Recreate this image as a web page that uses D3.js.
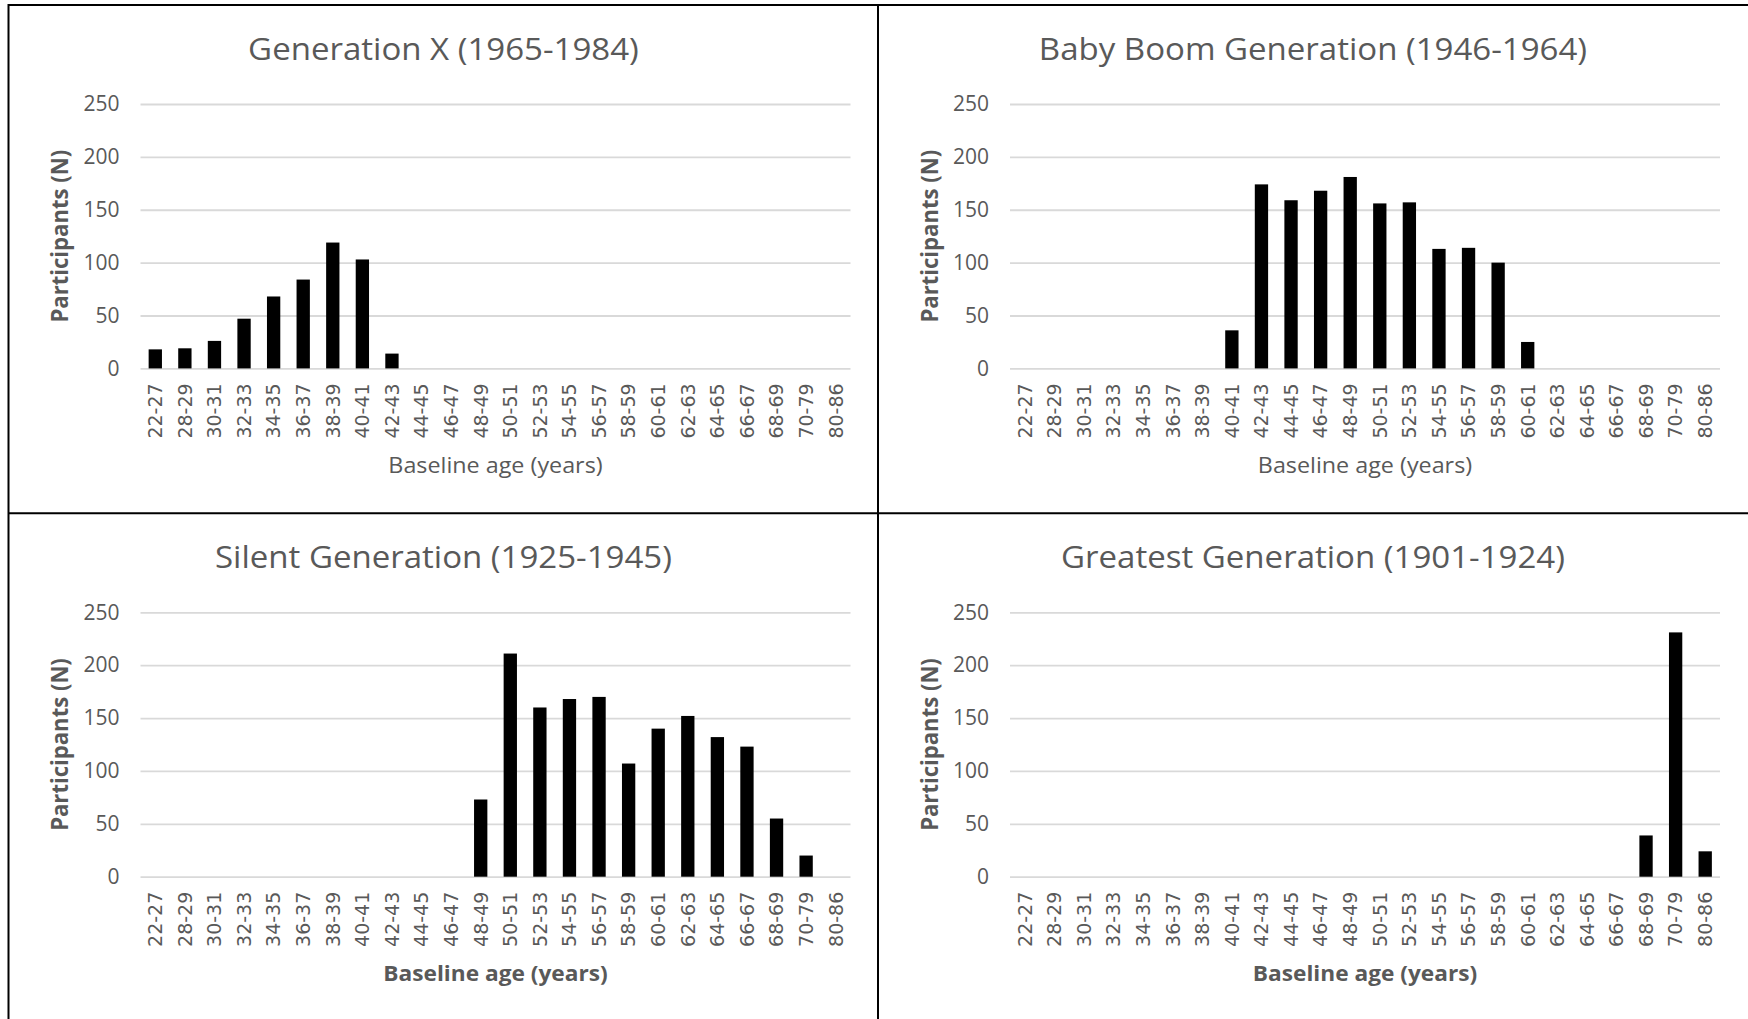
<!DOCTYPE html>
<html>
<head>
<meta charset="utf-8">
<script src="https://cdn.jsdelivr.net/npm/d3@7"></script>
<style>
  html, body { margin: 0; padding: 0; background: #fff; }
  svg { display: block; }
</style>
</head>
<body>
<svg id="chart" width="1748" height="1019"></svg>
<script>
// ---------- DATA ----------
const categories = ["22-27","28-29","30-31","32-33","34-35","36-37","38-39","40-41","42-43","44-45","46-47","48-49",
                    "50-51","52-53","54-55","56-57","58-59","60-61","62-63","64-65","66-67","68-69","70-79","80-86"];
const genX      = [18,19,26,47,68,84,119,103,14,0,0,0,0,0,0,0,0,0,0,0,0,0,0,0];
const babyBoom  = [0,0,0,0,0,0,0,36,174,159,168,181,156,157,113,114,100,25,0,0,0,0,0,0];
const silent    = [0,0,0,0,0,0,0,0,0,0,0,73,211,160,168,170,107,140,152,132,123,55,20,0];
const greatest  = [0,0,0,0,0,0,0,0,0,0,0,0,0,0,0,0,0,0,0,0,0,39,231,24];
const titles    = ["Generation X (1965-1984)","Baby Boom Generation (1946-1964)","Silent Generation (1925-1945)","Greatest Generation (1901-1924)"];
const yTicks    = [0,50,100,150,200,250];
const yTitle    = "Participants (N)";
const xTitle    = "Baseline age (years)";

// ---------- LAYOUT ----------
const svg = d3.select("#chart");
const colX = [8.5, 878];
const rowY = [5, 513.3];
const panels = [
  {title: titles[0], values: genX,     col: 0, row: 0, boldX: false},
  {title: titles[1], values: babyBoom, col: 1, row: 0, boldX: false},
  {title: titles[2], values: silent,   col: 0, row: 1, boldX: true},
  {title: titles[3], values: greatest, col: 1, row: 1, boldX: true}
];
const grey = "#595959";

function fit(sel, factor) {
  sel.each(function() {
    const w = this.getComputedTextLength();
    d3.select(this).attr("textLength", w * factor).attr("lengthAdjust", "spacingAndGlyphs");
  });
}

panels.forEach(p => {
  const x0 = colX[p.col], y0 = rowY[p.row];
  const left = x0 + 132, right = x0 + 842;
  const top = y0 + 99, bottom = y0 + 363.4;

  const x = d3.scaleBand().domain(categories).range([left, right]).paddingInner(0.55).paddingOuter(0.275);
  const y = d3.scaleLinear().domain([0, 250]).range([bottom, top]);

  const g = svg.append("g");

  // gridlines + y labels
  const ya = g.append("g").attr("transform", `translate(${left},0)`)
    .call(d3.axisLeft(y).tickValues(yTicks).tickSize(-(right - left)).tickPadding(21));
  ya.select(".domain").remove();
  ya.selectAll(".tick line").attr("stroke", "#d9d9d9").attr("stroke-width", 1.8);
  ya.selectAll(".tick text").attr("fill", grey)
    .style("font-family", "'Open Sans', sans-serif").style("font-size", "21px");

  // bars
  g.append("g").selectAll("rect")
    .data(categories.map((c, i) => ({c, v: p.values[i]})).filter(d => d.v > 0))
    .join("rect")
    .attr("x", d => x(d.c))
    .attr("width", x.bandwidth())
    .attr("y", d => y(d.v))
    .attr("height", d => y(0) - y(d.v))
    .attr("fill", "#000");

  // x labels
  const xa = g.append("g").attr("transform", `translate(0,${bottom})`)
    .call(d3.axisBottom(x).tickSize(0));
  xa.select(".domain").remove();
  xa.selectAll(".tick text")
    .attr("transform", "rotate(-90)")
    .attr("x", -15).attr("y", 0).attr("dy", "0.36em")
    .style("text-anchor", "end")
    .attr("fill", grey)
    .style("font-family", "'DejaVu Sans', sans-serif").style("font-size", "19px");

  // title
  const t = g.append("text")
    .attr("x", x0 + 435).attr("y", y0 + 55)
    .attr("text-anchor", "middle").attr("fill", grey)
    .style("font-family", "'Open Sans', sans-serif").style("font-size", "31px")
    .text(p.title);
  fit(t, 1.065);

  // y title
  const yt = g.append("text")
    .attr("transform", `translate(${x0 + 51.5},${(top + bottom) / 2}) rotate(-90)`)
    .attr("text-anchor", "middle").attr("dy", "0.35em").attr("fill", grey)
    .style("font-family", "'Open Sans', sans-serif").style("font-size", "24px").style("font-weight", "bold")
    .text(yTitle);
  fit(yt, 0.92);

  // x title
  const xt = g.append("text")
    .attr("x", (left + right) / 2).attr("y", y0 + 468)
    .attr("text-anchor", "middle").attr("fill", grey)
    .style("font-family", "'Open Sans', sans-serif").style("font-size", "21px")
    .style("font-weight", p.boldX ? "bold" : "normal")
    .text(xTitle);
  fit(xt, p.boldX ? 1.08 : 1.11);
});

// panel borders
const frame = svg.append("g").attr("stroke", "#000").attr("stroke-width", 2);
frame.append("line").attr("x1", 8.5).attr("x2", 1748).attr("y1", 5).attr("y2", 5);
frame.append("line").attr("x1", 8.5).attr("x2", 1748).attr("y1", 513.3).attr("y2", 513.3);
frame.append("line").attr("x1", 8.5).attr("x2", 8.5).attr("y1", 4).attr("y2", 1019);
frame.append("line").attr("x1", 878).attr("x2", 878).attr("y1", 4).attr("y2", 1019);
</script>
</body>
</html>
